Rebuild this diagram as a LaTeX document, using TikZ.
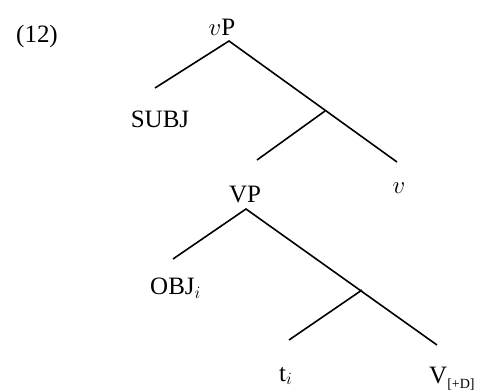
\documentclass[tikz,border=0pt]{standalone}
\usepackage{fontspec}
\setmainfont{Liberation Serif}
\begin{document}
\begin{tikzpicture}[x=1pt,y=-1pt,
  lbl/.style={inner sep=0pt,font=\fontsize{25}{28}\selectfont},
  edge/.style={line width=1.6pt}]
\useasboundingbox (0,0) rectangle (483,391);
% labels
\node[lbl] (ex) at (37,36) {(12)};
\node[lbl] (vP) at (222,27) {$v$P};
\node[lbl] (subj) at (160,119) {SUBJ};
\node[lbl] (v) at (399,188) {$v$};
\node[lbl] (VP) at (245,195) {VP};
\node[lbl,anchor=west] (obj) at (150,288) {OBJ$_i$};
\node[lbl,anchor=west] (t) at (279,376) {t$_i$};
\node[lbl,anchor=west] (V) at (429,379) {V\raisebox{-5pt}{\fontsize{14}{16}\selectfont[+D]}};
% branch points
\coordinate (a1) at (229,41);
\coordinate (s1) at (155,88);
\coordinate (r1) at (397,162);
\coordinate (b1) at (325,111);
\coordinate (l1) at (257,160);
\coordinate (a2) at (246,209);
\coordinate (s2) at (173,259);
\coordinate (r2) at (437,345);
\coordinate (b2) at (362,290);
\coordinate (l2) at (289,340);
% edges
\draw[edge] (s1) -- (a1) -- (r1);
\draw[edge] (b1) -- (l1);
\draw[edge] (s2) -- (a2) -- (r2);
\draw[edge] (b2) -- (l2);
\end{tikzpicture}
\end{document}
